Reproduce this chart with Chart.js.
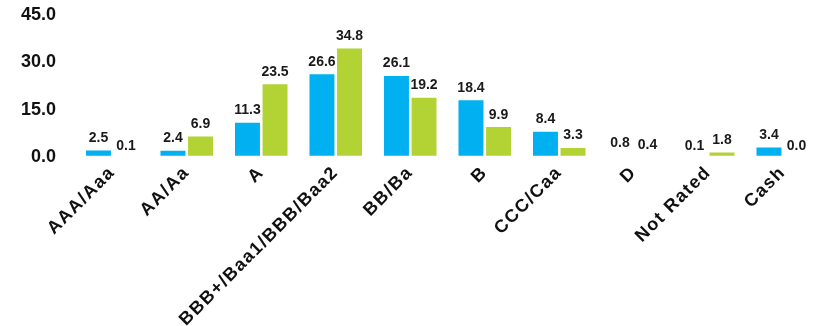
<!DOCTYPE html>
<html>
<head>
<meta charset="utf-8">
<script src="https://cdn.jsdelivr.net/npm/chart.js@4.4.1/dist/chart.umd.min.js"></script>
<style>
html, body { margin: 0; padding: 0; background: #fff; }
</style>
</head>
<body>
<canvas id="Grafico" width="820" height="326"></canvas>
<script>
var categories = ["AAA/Aaa", "AA/Aa", "A", "BBB+/Baa1/BBB/Baa2", "BB/Ba", "B", "CCC/Caa", "D", "Not Rated", "Cash"];
var fundValues = [2.5, 2.4, 11.3, 26.6, 26.1, 18.4, 8.4, 0.8, 0.1, 3.4];
var benchValues = [0.1, 6.9, 23.5, 34.8, 19.2, 9.9, 3.3, 0.4, 1.8, 0.0];
var yTicks = [0, 15, 30, 45];

var FONT = '"Liberation Sans", Arial, sans-serif';

// value above each bar
var valueLabels = {
  id: 'valueLabels',
  afterDatasetsDraw: function (chart) {
    var ctx = chart.ctx;
    ctx.save();
    ctx.font = 'bold 14px ' + FONT;
    ctx.fillStyle = '#1a1a1a';
    ctx.textAlign = 'center';
    ctx.textBaseline = 'bottom';
    chart.data.datasets.forEach(function (ds, i) {
      chart.getDatasetMeta(i).data.forEach(function (bar, j) {
        ctx.fillText(ds.data[j].toFixed(1), bar.x, bar.y - 4);
      });
    });
    ctx.restore();
  }
};

// the category labels are a bit spaced out in the original
var spacedLabels = {
  id: 'spacedLabels',
  afterLayout: function (chart) {
    var xs = chart.scales.x;
    if (xs._spaced) return;
    xs._spaced = true;
    var orig = xs.drawLabels;
    xs.drawLabels = function (area) {
      this.ctx.save();
      this.ctx.letterSpacing = '1.5px';
      orig.call(this, area);
      this.ctx.restore();
    };
  }
};

var canva = document.getElementById("Grafico").getContext("2d");
var chart = new Chart(canva, {
  type: "bar",
  data: {
    labels: categories,
    datasets: [
      {
        label: "Fund",
        data: fundValues,
        backgroundColor: "#00B0F0",
        borderColor: "#ffffff",
        borderWidth: 1.3,
        borderSkipped: false
      },
      {
        label: "Benchmark",
        data: benchValues,
        backgroundColor: "#B3D335",
        borderColor: "#ffffff",
        borderWidth: 1.3,
        borderSkipped: false
      }
    ]
  },
  options: {
    responsive: false,
    devicePixelRatio: 1,
    animation: false,
    layout: { padding: { top: 15, right: 0, left: 0, bottom: 0 } },
    plugins: {
      legend: { display: false },
      tooltip: { enabled: false }
    },
    datasets: {
      bar: { categoryPercentage: 0.74, barPercentage: 1.0 }
    },
    scales: {
      x: {
        grid: { display: false, drawTicks: false },
        border: { display: false },
        ticks: {
          color: "#111",
          font: { family: FONT, size: 18, weight: "bold" },
          minRotation: 45,
          maxRotation: 45,
          autoSkip: false,
          padding: 5
        },
        beforeCalculateLabelRotation: function (s) { s.ctx.letterSpacing = '1.5px'; },
        afterFit: function (s) { s.ctx.letterSpacing = '0px'; s.height = 169; }
      },
      y: {
        min: 0,
        max: 45,
        grid: { display: false, drawTicks: false },
        border: { display: false },
        ticks: {
          color: "#111",
          font: { family: FONT, size: 18, weight: "bold" },
          padding: 19,
          callback: function (v) { return v.toFixed(1); }
        },
        afterBuildTicks: function (s) {
          s.ticks = yTicks.map(function (v) { return { value: v }; });
        },
        afterFit: function (s) {
          s.width = 75;
          s.paddingTop = 8;
          s.paddingBottom = 8;
        }
      }
    }
  },
  plugins: [valueLabels, spacedLabels]
});
</script>
</body>
</html>
